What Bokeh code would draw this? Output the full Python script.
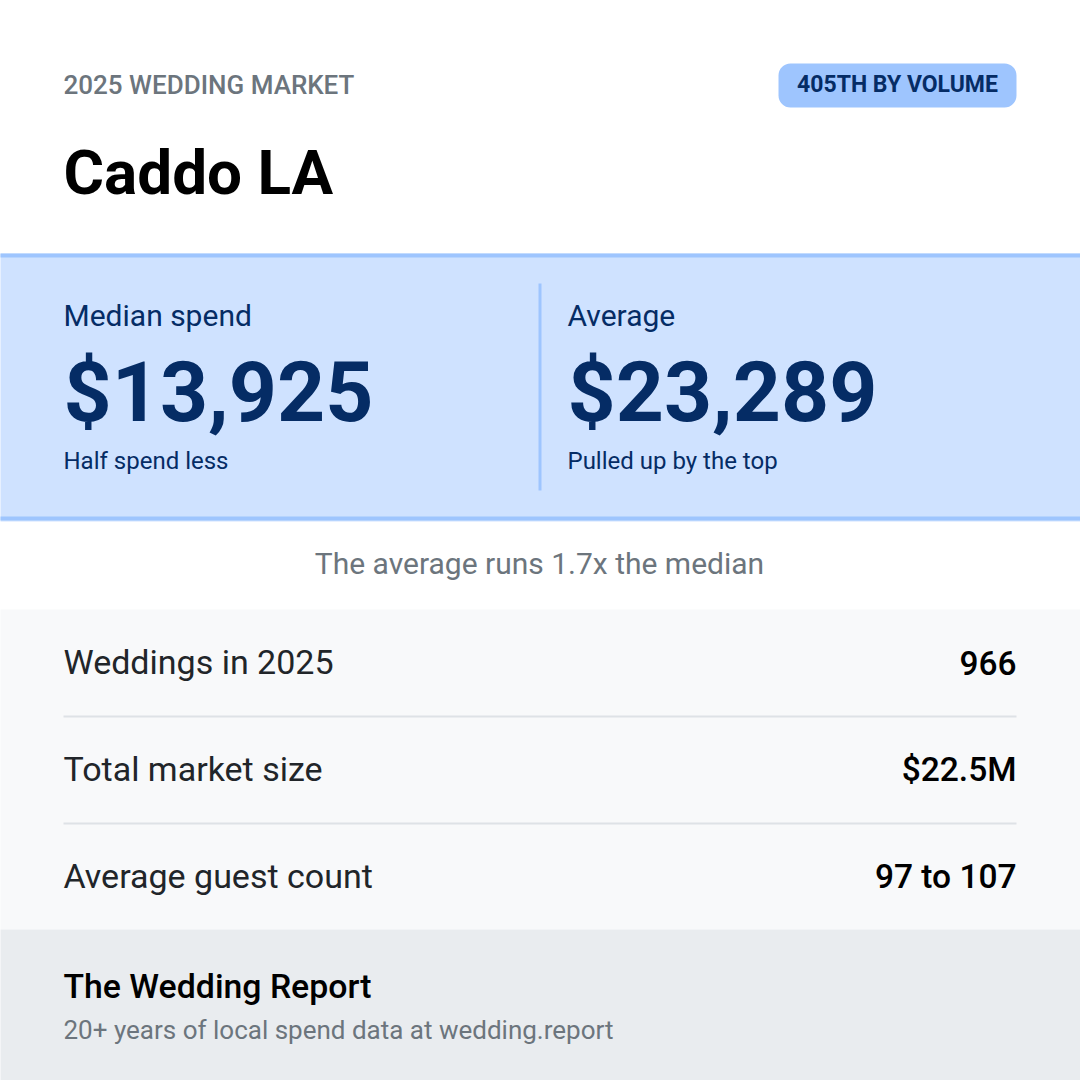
from bokeh.core.properties import value
from bokeh.embed import file_html
from bokeh.models import BoxAnnotation, Range1d
from bokeh.plotting import figure
from bokeh.resources import INLINE

# contenido de la tarjeta
eyebrow = "2025 WEDDING MARKET"
badge = "405TH BY VOLUME"
market = "Caddo LA"
stat_labels = ["Median spend", "Average"]
stat_values = ["$13,925", "$23,289"]
stat_notes = ["Half spend less", "Pulled up by the top"]
caption = "The average runs 1.7x the median"
row_labels = ["Weddings in 2025", "Total market size", "Average guest count"]
row_values = ["966", "$22.5M", "97 to 107"]
brand = "The Wedding Report"
tagline = "20+ years of local spend data at wedding.report"

# colores
BLUE_DARK = "#052c65"
BLUE_MID = "#9ec5fe"
BLUE_LIGHT = "#cfe2ff"
GREY_TEXT = "#6c757d"
GREY_BAND = "#f8f9fa"
GREY_FOOT = "#e9ecef"
GREY_RULE = "#dee2e6"
INK = "#212529"

# rangos desplazados 1px: el marco de bokeh empieza en 1,1
p = figure(width=1080, height=1080, output_backend="svg", toolbar_location=None,
           x_range=Range1d(1, 1081), y_range=Range1d(1081, 1),
           x_axis_type=None, y_axis_type=None,
           min_border=0, outline_line_color=None, background_fill_color="white")
p.grid.visible = False


# BoxAnnotation en vez de quad: llega hasta el borde izquierdo, fuera del marco
def band(left, right, top, bottom, color, radius=0):
    p.add_layout(BoxAnnotation(left=left, right=right, top=top, bottom=bottom, fill_color=color,
                               fill_alpha=1, line_color=None, border_radius=radius, level="underlay"))


def label(x, y, txt, size, color, font="Roboto", style="normal", align="left"):
    p.text(x=[x], y=[y], text=[txt], text_font=value(font), text_font_size=f"{size}px",
           text_font_style=style, text_color=color, text_align=align, text_baseline="middle")


# bandas de fondo
band(-10, 1090, 254, 522, BLUE_LIGHT)
band(-10, 1090, 254, 258, BLUE_MID)
band(-10, 1090, 517, 521, BLUE_MID)
band(539, 542, 284, 491, BLUE_MID)
band(-10, 1090, 610, 930, GREY_BAND)
band(-10, 1090, 930, 1090, GREY_FOOT)

# cabecera
label(64, 85, eyebrow, 26, GREY_TEXT, font="Roboto Medium")
band(779, 1017, 64, 108, BLUE_MID, radius=12)
label(898, 85, badge, 23, BLUE_DARK, style="bold", align="center")
label(64, 173, market, 62, "black", style="bold")

# cifras principales
for x, lab, val, note in zip([64, 568], stat_labels, stat_values, stat_notes):
    label(x, 316, lab, 30, BLUE_DARK)
    label(x, 393, val, 84, BLUE_DARK, style="bold")
    label(x, 461, note, 24, BLUE_DARK)

label(540, 564, caption, 30, GREY_TEXT, align="center")

# filas
for y, lab, val in zip([662, 769, 876], row_labels, row_values):
    label(64, y, lab, 34, INK)
    label(1017, y + 1, val, 33.5, "black", font="Roboto Medium", align="right")
for y in [716, 823]:
    band(64, 1017, y, y + 2, GREY_RULE)

# pie
label(64, 987, brand, 33.8, "black", font="Roboto Medium")
label(64, 1030, tagline, 26, GREY_TEXT)

open("out.html", "w").write(file_html(p, INLINE))
